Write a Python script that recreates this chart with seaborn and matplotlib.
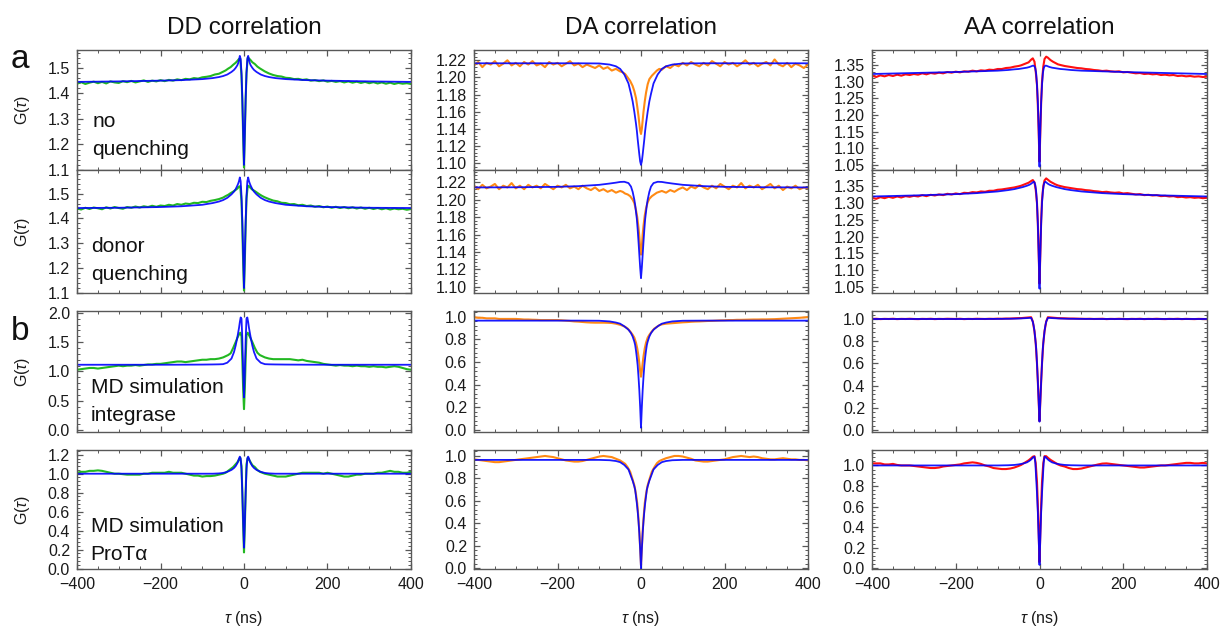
import matplotlib
matplotlib.use("Agg")
import matplotlib.pyplot as plt
import seaborn as sns
from matplotlib.ticker import MultipleLocator, AutoMinorLocator, FuncFormatter

sns.set_theme(style="ticks")
plt.rcParams['font.family'] = ['Liberation Sans', 'DejaVu Sans']
plt.rcParams['mathtext.fontset'] = 'custom'
plt.rcParams['mathtext.rm'] = 'Liberation Sans'
plt.rcParams['mathtext.it'] = 'Liberation Sans:italic'

# ---------------- data ----------------
TAU_DATA = (list(range(-400, -40, 10))
            + [-44, -38, -32, -26, -20, -16, -12, -9, -6, -4, -2, 0,
               2, 4, 6, 9, 12, 16, 20, 26, 32, 38, 44]
            + list(range(50, 410, 10)))
TAU_FIT = [-400, -300, -200, -150, -100, -75, -60, -50, -40, -30, -24, -20, -16, -14, -12, -10, -8, -6, -4, -2, 0,
           2, 4, 6, 8, 10, 12, 14, 16, 20, 24, 30, 40, 50, 60, 75, 100, 150, 200, 300, 400]

# DD correlation
DD_NOQ_DATA = ([1.438, 1.444, 1.437, 1.442, 1.446, 1.440, 1.445, 1.439, 1.447, 1.443, 1.441, 1.448, 1.444, 1.449, 1.443, 1.447, 1.451, 1.445,
                1.450, 1.447, 1.452, 1.448, 1.453, 1.450, 1.455, 1.452, 1.457, 1.455, 1.460, 1.458, 1.463, 1.465, 1.468, 1.474, 1.477, 1.485]
               + [1.490, 1.497, 1.503, 1.512, 1.520, 1.527, 1.535, 1.535, 1.470, 1.370, 1.230, 1.110,
                  1.240, 1.380, 1.480, 1.540, 1.537, 1.530, 1.522, 1.515, 1.505, 1.498, 1.492]
               + [1.486, 1.478, 1.472, 1.468, 1.466, 1.461, 1.460, 1.456, 1.457, 1.453, 1.455, 1.450, 1.452, 1.448, 1.451, 1.446, 1.449, 1.445,
                  1.448, 1.443, 1.447, 1.442, 1.446, 1.441, 1.445, 1.440, 1.444, 1.439, 1.443, 1.438, 1.442, 1.437, 1.441, 1.438, 1.440, 1.437])
DD_NOQ_FIT = [1.445, 1.447, 1.450, 1.452, 1.456, 1.460, 1.464, 1.468, 1.474, 1.484, 1.492, 1.500, 1.510, 1.518, 1.530, 1.547, 1.535, 1.480, 1.380, 1.250, 1.120,
              1.250, 1.380, 1.480, 1.535, 1.547, 1.530, 1.518, 1.510, 1.500, 1.492, 1.484, 1.474, 1.468, 1.464, 1.460, 1.456, 1.452, 1.450, 1.447, 1.445]

DD_DQ_DATA = ([1.440, 1.436, 1.443, 1.438, 1.444, 1.441, 1.437, 1.445, 1.440, 1.446, 1.442, 1.439, 1.446, 1.443, 1.448, 1.444, 1.449, 1.446,
               1.451, 1.447, 1.452, 1.450, 1.455, 1.452, 1.458, 1.455, 1.460, 1.458, 1.463, 1.462, 1.467, 1.466, 1.471, 1.474, 1.478, 1.484]
              + [1.490, 1.495, 1.502, 1.508, 1.515, 1.520, 1.528, 1.530, 1.470, 1.360, 1.220, 1.110,
                 1.230, 1.370, 1.480, 1.532, 1.530, 1.522, 1.516, 1.510, 1.503, 1.496, 1.490]
              + [1.485, 1.478, 1.472, 1.469, 1.463, 1.462, 1.457, 1.458, 1.453, 1.455, 1.450, 1.452, 1.447, 1.450, 1.445, 1.448, 1.443, 1.447,
                 1.442, 1.446, 1.441, 1.445, 1.440, 1.444, 1.439, 1.443, 1.438, 1.442, 1.437, 1.441, 1.436, 1.440, 1.437, 1.439, 1.435, 1.438])
DD_DQ_FIT = [1.442, 1.443, 1.446, 1.449, 1.455, 1.462, 1.468, 1.474, 1.483, 1.497, 1.508, 1.518, 1.532, 1.540, 1.550, 1.565, 1.550, 1.490, 1.390, 1.260, 1.120,
             1.260, 1.390, 1.490, 1.550, 1.565, 1.550, 1.540, 1.532, 1.518, 1.508, 1.497, 1.483, 1.474, 1.468, 1.462, 1.455, 1.449, 1.446, 1.443, 1.442]

DD_INT_DATA = ([1.03, 1.04, 1.05, 1.06, 1.06, 1.05, 1.06, 1.07, 1.08, 1.09, 1.10, 1.09, 1.10, 1.10, 1.11, 1.10, 1.11, 1.12,
                1.12, 1.13, 1.13, 1.14, 1.15, 1.16, 1.17, 1.17, 1.16, 1.17, 1.18, 1.19, 1.20, 1.20, 1.21, 1.21, 1.22, 1.24]
               + [1.26, 1.28, 1.31, 1.40, 1.50, 1.57, 1.63, 1.66, 1.60, 1.20, 0.70, 0.36,
                  0.72, 1.22, 1.62, 1.66, 1.62, 1.56, 1.50, 1.40, 1.32, 1.28, 1.26]
               + [1.24, 1.22, 1.21, 1.21, 1.21, 1.21, 1.21, 1.20, 1.19, 1.20, 1.18, 1.17, 1.16, 1.15, 1.13, 1.12, 1.11, 1.10,
                  1.11, 1.10, 1.10, 1.09, 1.10, 1.09, 1.09, 1.08, 1.09, 1.08, 1.08, 1.07, 1.08, 1.09, 1.08, 1.06, 1.04, 1.03])
DD_INT_FIT = [1.115, 1.115, 1.115, 1.116, 1.118, 1.120, 1.122, 1.125, 1.150, 1.220, 1.330, 1.440, 1.580, 1.660, 1.740, 1.840, 1.920, 1.900, 1.550, 1.000, 0.560,
              1.000, 1.550, 1.900, 1.920, 1.840, 1.740, 1.660, 1.580, 1.440, 1.330, 1.220, 1.150, 1.125, 1.122, 1.120, 1.118, 1.116, 1.115, 1.115, 1.115]

DD_PRO_DATA = ([1.01, 1.02, 1.02, 1.03, 1.03, 1.035, 1.03, 1.02, 1.01, 1.00, 1.00, 0.995, 0.99, 0.99, 0.99, 0.99, 1.00, 1.00,
                1.01, 1.01, 1.01, 1.01, 1.02, 1.01, 1.01, 1.01, 1.00, 0.99, 0.98, 0.98, 0.97, 0.975, 0.975, 0.98, 0.99, 1.00]
               + [1.01, 1.03, 1.05, 1.07, 1.10, 1.12, 1.15, 1.17, 1.08, 0.80, 0.45, 0.17,
                  0.45, 0.80, 1.10, 1.17, 1.15, 1.12, 1.09, 1.07, 1.04, 1.02, 1.01]
               + [1.00, 0.99, 0.98, 0.97, 0.97, 0.97, 0.98, 0.99, 1.00, 1.01, 1.01, 1.01, 1.01, 1.01, 1.00, 1.01, 1.00, 0.99,
                  0.98, 0.97, 0.97, 0.98, 0.99, 0.99, 1.00, 1.00, 1.00, 1.01, 1.01, 1.02, 1.03, 1.02, 1.02, 1.01, 1.01, 1.02])
DD_PRO_FIT = [1.000, 1.000, 1.000, 1.000, 1.000, 1.000, 1.003, 1.008, 1.020, 1.040, 1.060, 1.080, 1.110, 1.130, 1.160, 1.180, 1.160, 1.050, 0.800, 0.500, 0.220,
              0.500, 0.800, 1.050, 1.160, 1.180, 1.160, 1.130, 1.110, 1.080, 1.060, 1.040, 1.020, 1.008, 1.003, 1.000, 1.000, 1.000, 1.000, 1.000, 1.000]

# DA correlation
DA_NOQ_DATA = ([1.214, 1.218, 1.212, 1.217, 1.215, 1.219, 1.213, 1.216, 1.220, 1.214, 1.217, 1.213, 1.218, 1.215, 1.219, 1.214, 1.216, 1.212,
                1.218, 1.215, 1.217, 1.213, 1.216, 1.219, 1.214, 1.216, 1.212, 1.215, 1.213, 1.211, 1.214, 1.210, 1.212, 1.208, 1.210, 1.207]
               + [1.206, 1.204, 1.200, 1.196, 1.190, 1.184, 1.176, 1.166, 1.155, 1.146, 1.138, 1.134,
                  1.140, 1.150, 1.160, 1.172, 1.182, 1.192, 1.198, 1.202, 1.205, 1.208, 1.210]
               + [1.209, 1.213, 1.211, 1.215, 1.213, 1.217, 1.214, 1.218, 1.215, 1.213, 1.217, 1.214, 1.219, 1.216, 1.213, 1.218, 1.215, 1.217,
                  1.213, 1.216, 1.220, 1.215, 1.217, 1.213, 1.216, 1.218, 1.214, 1.221, 1.215, 1.213, 1.217, 1.212, 1.216, 1.214, 1.211, 1.215])
DA_NOQ_FIT = [1.2165, 1.2165, 1.2165, 1.2165, 1.2163, 1.2150, 1.2130, 1.2100, 1.2035, 1.1930, 1.1810, 1.1720, 1.1600, 1.1530, 1.1460, 1.1380, 1.1280, 1.1190, 1.1100, 1.1020, 1.0980,
              1.1020, 1.1100, 1.1190, 1.1280, 1.1380, 1.1460, 1.1530, 1.1600, 1.1720, 1.1810, 1.1930, 1.2035, 1.2100, 1.2130, 1.2150, 1.2163, 1.2165, 1.2165, 1.2165, 1.2165]

DA_DQ_DATA = ([1.216, 1.212, 1.217, 1.213, 1.215, 1.218, 1.212, 1.216, 1.214, 1.219, 1.213, 1.216, 1.212, 1.217, 1.214, 1.216, 1.213, 1.218,
               1.215, 1.212, 1.216, 1.214, 1.217, 1.213, 1.215, 1.212, 1.216, 1.213, 1.211, 1.214, 1.210, 1.212, 1.209, 1.211, 1.208, 1.210]
              + [1.209, 1.207, 1.206, 1.204, 1.200, 1.196, 1.188, 1.180, 1.168, 1.158, 1.145, 1.137,
                 1.146, 1.160, 1.170, 1.182, 1.190, 1.197, 1.201, 1.204, 1.206, 1.208, 1.209]
              + [1.210, 1.208, 1.211, 1.209, 1.212, 1.214, 1.211, 1.215, 1.213, 1.217, 1.214, 1.212, 1.216, 1.213, 1.218, 1.215, 1.212, 1.216,
                 1.214, 1.219, 1.213, 1.216, 1.214, 1.217, 1.212, 1.215, 1.218, 1.213, 1.216, 1.211, 1.215, 1.213, 1.216, 1.212, 1.214, 1.213])
DA_DQ_FIT = [1.2140, 1.2142, 1.2147, 1.2155, 1.2170, 1.2185, 1.2195, 1.2203, 1.2205, 1.2190, 1.2150, 1.2090, 1.2000, 1.1940, 1.1860, 1.1780, 1.1660, 1.1520, 1.1370, 1.1220, 1.1100,
             1.1220, 1.1370, 1.1520, 1.1660, 1.1780, 1.1860, 1.1940, 1.2000, 1.2090, 1.2150, 1.2190, 1.2205, 1.2203, 1.2195, 1.2185, 1.2170, 1.2155, 1.2147, 1.2142, 1.2140]

DA_INT_DATA = ([0.995, 0.990, 0.990, 0.985, 0.985, 0.985, 0.980, 0.980, 0.980, 0.980, 0.980, 0.978, 0.975, 0.975, 0.973, 0.972, 0.970, 0.970,
                0.970, 0.970, 0.970, 0.968, 0.965, 0.962, 0.958, 0.956, 0.953, 0.950, 0.948, 0.947, 0.947, 0.947, 0.946, 0.944, 0.938, 0.928]
               + [0.920, 0.910, 0.895, 0.870, 0.840, 0.815, 0.770, 0.720, 0.650, 0.590, 0.520, 0.470,
                  0.520, 0.590, 0.650, 0.720, 0.770, 0.815, 0.840, 0.870, 0.895, 0.910, 0.925]
               + [0.932, 0.938, 0.941, 0.944, 0.947, 0.950, 0.952, 0.955, 0.957, 0.958, 0.960, 0.962, 0.963, 0.965, 0.967, 0.968, 0.970, 0.970,
                  0.972, 0.972, 0.973, 0.974, 0.975, 0.975, 0.976, 0.976, 0.977, 0.978, 0.980, 0.982, 0.984, 0.986, 0.988, 0.990, 0.993, 0.997])
DA_INT_FIT = [0.965, 0.965, 0.965, 0.965, 0.964, 0.958, 0.948, 0.938, 0.915, 0.885, 0.855, 0.825, 0.780, 0.750, 0.700, 0.640, 0.570, 0.470, 0.350, 0.200, 0.020,
              0.200, 0.350, 0.470, 0.570, 0.640, 0.700, 0.750, 0.780, 0.825, 0.855, 0.885, 0.915, 0.938, 0.948, 0.958, 0.964, 0.965, 0.965, 0.965, 0.965]

DA_PRO_DATA = ([0.970, 0.965, 0.960, 0.955, 0.950, 0.945, 0.945, 0.950, 0.955, 0.960, 0.965, 0.970, 0.975, 0.980, 0.985, 0.990, 0.995, 1.000,
                0.995, 0.990, 0.980, 0.970, 0.960, 0.955, 0.950, 0.950, 0.955, 0.965, 0.975, 0.985, 0.995, 1.000, 0.995, 0.990, 0.975, 0.960]
               + [0.945, 0.930, 0.900, 0.860, 0.790, 0.740, 0.660, 0.580, 0.440, 0.330, 0.180, 0.030,
                  0.180, 0.330, 0.440, 0.580, 0.660, 0.740, 0.790, 0.860, 0.900, 0.935, 0.955]
               + [0.965, 0.980, 0.990, 1.000, 1.000, 0.995, 0.985, 0.975, 0.960, 0.955, 0.950, 0.950, 0.955, 0.960, 0.965, 0.970, 0.980, 0.990,
                  0.995, 1.000, 0.995, 0.990, 0.995, 0.990, 0.980, 0.975, 0.970, 0.970, 0.975, 0.980, 0.975, 0.970, 0.970, 0.965, 0.965, 0.960])
DA_PRO_FIT = [0.965, 0.965, 0.965, 0.965, 0.965, 0.962, 0.955, 0.945, 0.920, 0.880, 0.820, 0.780, 0.730, 0.700, 0.640, 0.580, 0.510, 0.420, 0.310, 0.170, 0.000,
              0.170, 0.310, 0.420, 0.510, 0.580, 0.640, 0.700, 0.730, 0.780, 0.820, 0.880, 0.920, 0.945, 0.955, 0.962, 0.965, 0.965, 0.965, 0.965, 0.965]

# AA correlation
AA_NOQ_DATA = ([1.318, 1.314, 1.319, 1.316, 1.320, 1.317, 1.321, 1.318, 1.322, 1.320, 1.323, 1.321, 1.325, 1.322, 1.326, 1.324, 1.327, 1.325,
                1.329, 1.327, 1.330, 1.328, 1.331, 1.330, 1.333, 1.331, 1.334, 1.333, 1.336, 1.335, 1.338, 1.338, 1.341, 1.342, 1.345, 1.347]
               + [1.349, 1.352, 1.355, 1.358, 1.366, 1.370, 1.360, 1.330, 1.290, 1.230, 1.150, 1.060,
                  1.150, 1.240, 1.300, 1.345, 1.368, 1.375, 1.372, 1.365, 1.360, 1.356, 1.352]
               + [1.350, 1.347, 1.345, 1.343, 1.341, 1.340, 1.338, 1.337, 1.335, 1.334, 1.332, 1.333, 1.331, 1.330, 1.331, 1.328, 1.329, 1.327,
                  1.325, 1.326, 1.323, 1.324, 1.322, 1.323, 1.320, 1.321, 1.319, 1.320, 1.317, 1.318, 1.316, 1.317, 1.315, 1.316, 1.314, 1.315])
AA_NOQ_FIT = [1.323, 1.326, 1.329, 1.331, 1.333, 1.335, 1.337, 1.338, 1.340, 1.342, 1.344, 1.346, 1.348, 1.348, 1.346, 1.340, 1.325, 1.290, 1.240, 1.160, 1.045,
              1.160, 1.240, 1.290, 1.325, 1.340, 1.346, 1.348, 1.348, 1.346, 1.344, 1.342, 1.340, 1.338, 1.337, 1.335, 1.333, 1.331, 1.329, 1.326, 1.323]

AA_DQ_DATA = ([1.316, 1.313, 1.318, 1.315, 1.319, 1.316, 1.320, 1.317, 1.321, 1.319, 1.322, 1.320, 1.324, 1.321, 1.325, 1.323, 1.326, 1.324,
               1.328, 1.326, 1.329, 1.327, 1.331, 1.330, 1.333, 1.332, 1.335, 1.334, 1.337, 1.337, 1.340, 1.341, 1.343, 1.345, 1.347, 1.350]
              + [1.352, 1.355, 1.358, 1.361, 1.366, 1.369, 1.362, 1.340, 1.300, 1.240, 1.150, 1.060,
                 1.150, 1.250, 1.310, 1.350, 1.368, 1.374, 1.370, 1.364, 1.360, 1.356, 1.353]
              + [1.351, 1.348, 1.346, 1.344, 1.342, 1.341, 1.339, 1.338, 1.336, 1.335, 1.333, 1.334, 1.332, 1.331, 1.332, 1.329, 1.330, 1.328,
                 1.326, 1.327, 1.324, 1.325, 1.323, 1.324, 1.321, 1.322, 1.320, 1.321, 1.318, 1.319, 1.317, 1.318, 1.316, 1.317, 1.315, 1.316])
AA_DQ_FIT = [1.320, 1.323, 1.327, 1.330, 1.335, 1.339, 1.342, 1.345, 1.348, 1.352, 1.355, 1.358, 1.362, 1.364, 1.362, 1.354, 1.335, 1.300, 1.240, 1.150, 1.045,
             1.150, 1.240, 1.300, 1.335, 1.354, 1.362, 1.364, 1.362, 1.358, 1.355, 1.352, 1.348, 1.345, 1.342, 1.339, 1.335, 1.330, 1.327, 1.323, 1.320]

AA_INT_DATA = ([1.000, 1.002, 0.999, 1.001, 1.000, 1.002, 0.999, 1.001, 1.000, 1.002, 1.000, 0.999, 1.001, 1.000, 1.002, 0.999, 1.001, 1.000,
                1.002, 1.001, 1.000, 1.002, 0.999, 1.001, 1.000, 1.002, 1.001, 1.000, 1.002, 1.001, 1.003, 1.002, 1.004, 1.004, 1.006, 1.008]
               + [1.008, 1.010, 1.012, 1.014, 1.016, 0.978, 0.890, 0.780, 0.600, 0.440, 0.260, 0.080,
                  0.260, 0.440, 0.600, 0.780, 0.890, 0.978, 1.016, 1.014, 1.012, 1.010, 1.008]
               + [1.007, 1.006, 1.004, 1.004, 1.003, 1.002, 1.001, 1.002, 1.000, 1.001, 1.002, 0.999, 1.001, 1.000, 1.002, 1.000, 0.999, 1.001,
                  1.000, 1.002, 0.999, 1.001, 1.000, 1.002, 1.000, 0.999, 1.001, 1.000, 1.002, 0.999, 1.001, 1.000, 0.999, 1.001, 1.000, 0.999])
AA_INT_FIT = [1.000, 1.000, 1.000, 1.000, 1.001, 1.002, 1.003, 1.004, 1.006, 1.008, 1.010, 1.010, 0.975, 0.940, 0.890, 0.820, 0.740, 0.600, 0.440, 0.260, 0.075,
              0.260, 0.440, 0.600, 0.740, 0.820, 0.890, 0.940, 0.975, 1.010, 1.010, 1.008, 1.006, 1.004, 1.003, 1.002, 1.001, 1.000, 1.000, 1.000, 1.000]

AA_PRO_DATA = ([1.020, 1.020, 1.020, 1.010, 1.010, 1.015, 1.005, 1.000, 1.000, 1.000, 0.995, 0.990, 0.985, 0.980, 0.975, 0.975, 0.980, 0.990,
                0.995, 1.000, 1.005, 1.010, 1.020, 1.025, 1.030, 1.025, 1.015, 1.000, 0.990, 0.975, 0.970, 0.965, 0.965, 0.970, 0.980, 0.995]
               + [1.005, 1.020, 1.035, 1.050, 1.070, 1.085, 1.090, 1.020, 0.840, 0.620, 0.350, 0.060,
                  0.350, 0.620, 0.840, 1.020, 1.090, 1.090, 1.075, 1.055, 1.040, 1.025, 1.010]
               + [1.000, 0.990, 0.975, 0.965, 0.965, 0.970, 0.980, 0.990, 1.000, 1.010, 1.018, 1.020, 1.015, 1.010, 1.005, 1.000, 0.995, 0.990,
                  0.985, 0.980, 0.980, 0.985, 0.990, 0.995, 1.000, 1.000, 1.005, 1.010, 1.015, 1.020, 1.025, 1.025, 1.020, 1.020, 1.025, 1.020])
AA_PRO_FIT = [1.000, 1.000, 1.000, 1.000, 1.000, 1.002, 1.005, 1.010, 1.018, 1.030, 1.045, 1.058, 1.075, 1.082, 1.085, 1.030, 0.880, 0.730, 0.550, 0.300, 0.035,
              0.300, 0.550, 0.730, 0.880, 1.030, 1.085, 1.082, 1.075, 1.058, 1.045, 1.030, 1.018, 1.010, 1.005, 1.002, 1.000, 1.000, 1.000, 1.000, 1.000]

COL_TITLES = ["DD correlation", "DA correlation", "AA correlation"]
ROW_NOTES = ["no\nquenching", "donor\nquenching", "MD simulation\nintegrase", "MD simulation\nProT\u03b1"]
X_TICKS = [-400, -200, 0, 200, 400]

GREEN, ORANGE, RED, BLUE = "#22b822", "#ff8a14", "#ff1010", "#0000ff"

# (row, col): data, fit, colour, ylim, major step, decimals
PANELS = {
    (0, 0): (DD_NOQ_DATA, DD_NOQ_FIT, GREEN, (1.10, 1.57), 0.1, 1),
    (1, 0): (DD_DQ_DATA, DD_DQ_FIT, GREEN, (1.10, 1.595), 0.1, 1),
    (2, 0): (DD_INT_DATA, DD_INT_FIT, GREEN, (-0.03, 2.03), 0.5, 1),
    (3, 0): (DD_PRO_DATA, DD_PRO_FIT, GREEN, (-0.005, 1.25), 0.2, 1),
    (0, 1): (DA_NOQ_DATA, DA_NOQ_FIT, ORANGE, (1.092, 1.232), 0.02, 2),
    (1, 1): (DA_DQ_DATA, DA_DQ_FIT, ORANGE, (1.093, 1.234), 0.02, 2),
    (2, 1): (DA_INT_DATA, DA_INT_FIT, ORANGE, (-0.018, 1.05), 0.2, 1),
    (3, 1): (DA_PRO_DATA, DA_PRO_FIT, ORANGE, (-0.005, 1.053), 0.2, 1),
    (0, 2): (AA_NOQ_DATA, AA_NOQ_FIT, RED, (1.035, 1.395), 0.05, 2),
    (1, 2): (AA_DQ_DATA, AA_DQ_FIT, RED, (1.032, 1.399), 0.05, 2),
    (2, 2): (AA_INT_DATA, AA_INT_FIT, RED, (-0.018, 1.072), 0.2, 1),
    (3, 2): (AA_PRO_DATA, AA_PRO_FIT, RED, (-0.005, 1.15), 0.2, 1),
}

for key, (d, f, *_rest) in PANELS.items():
    assert len(d) == len(TAU_DATA), (key, len(d))
    assert len(f) == len(TAU_FIT), (key, len(f))


def minus_fmt(decimals):
    def _f(v, pos):
        s = f"{v:.{decimals}f}"
        if float(s) == 0:
            s = s.lstrip("-")
        return s.replace("-", "\u2212")
    return FuncFormatter(_f)


# ---------------- layout ----------------
W, H = 1224, 628
fig = plt.figure(figsize=(W / 100, H / 100), dpi=100)
ROW_PX = [(50, 170), (170, 293), (311, 432), (450, 569)]
COL_PX = [(77, 411), (474, 808), (872, 1207)]
NOTE_POS = [(0.046, 0.088), (0.041, 0.07), (0.041, 0.058), (0.041, 0.039)]
SPINE = "#585858"

for (r, c), (data, fit, colour, ylim, major, dec) in PANELS.items():
    top, bot = ROW_PX[r]
    left, right = COL_PX[c]
    ax = fig.add_axes([left / W, 1 - bot / H, (right - left) / W, (bot - top) / H])
    sns.lineplot(x=TAU_DATA, y=data, ax=ax, color=colour, lw=1.5, estimator=None, sort=False)
    sns.lineplot(x=TAU_FIT, y=fit, ax=ax, color=BLUE, lw=1.3, alpha=0.9, estimator=None, sort=False)
    ax.set_xlim(-400, 400)
    ax.set_ylim(*ylim)
    ax.set_xticks(X_TICKS)
    ax.xaxis.set_minor_locator(MultipleLocator(50))
    ax.yaxis.set_major_locator(MultipleLocator(major))
    ax.yaxis.set_minor_locator(AutoMinorLocator(5))
    ax.yaxis.set_major_formatter(minus_fmt(dec))
    ax.xaxis.set_major_formatter(minus_fmt(0))
    ax.tick_params(which="both", direction="in", top=True, right=True,
                   color=SPINE, labelcolor="#1a1a1a", labelsize=11.5)
    ax.tick_params(which="major", length=4.5, width=0.9)
    ax.tick_params(which="minor", length=2.2, width=0.7)
    ax.tick_params(axis="y", pad=5)
    ax.tick_params(axis="x", pad=6)
    if r != 3:
        ax.tick_params(axis="x", labelbottom=False)
    ax.set_xlabel("")
    ax.set_ylabel("")
    for sp in ax.spines.values():
        sp.set_color(SPINE)
        sp.set_linewidth(1.0)
    if c == 0:
        nx, ny = NOTE_POS[r]
        ax.text(nx, ny, ROW_NOTES[r], transform=ax.transAxes, ha="left", va="bottom",
                fontsize=15, linespacing=1.62, color="#111111")

for c, title in enumerate(COL_TITLES):
    cx = (COL_PX[c][0] + COL_PX[c][1]) / 2 / W
    fig.text(cx, 1 - 28 / H, title, ha="center", va="center", fontsize=17.5, color="#111111")
    fig.text(cx, 1 - 618 / H, r"$\tau$ (ns)", ha="center", va="center", fontsize=11.5, color="#1a1a1a")

for r in range(4):
    cy = 1 - (ROW_PX[r][0] + ROW_PX[r][1]) / 2 / H
    fig.text(22 / W, cy, r"G($\tau$)", rotation=90, ha="center", va="center", fontsize=11.5, color="#1a1a1a")

fig.text(20 / W, 1 - 59.5 / H, "a", ha="center", va="center", fontsize=24, color="#111111")
fig.text(20 / W, 1 - 331 / H, "b", ha="center", va="center", fontsize=24, color="#111111")

fig.savefig("out.png", dpi=100)
